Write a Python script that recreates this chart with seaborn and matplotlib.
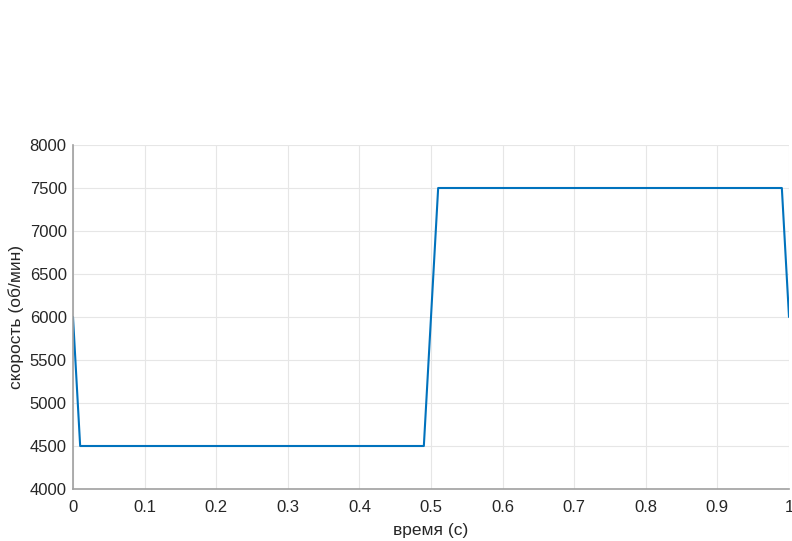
import matplotlib
matplotlib.use("Agg")
import matplotlib.pyplot as plt
import seaborn as sns
import pandas as pd

time_s = [0.0, 0.01, 0.49, 0.51, 0.99, 1.0]
speed_rpm = [6000, 4500, 4500, 7500, 7500, 6000]
x_ticks = [0, 0.1, 0.2, 0.3, 0.4, 0.5, 0.6, 0.7, 0.8, 0.9, 1.0]
x_tick_labels = ["0", "0.1", "0.2", "0.3", "0.4", "0.5", "0.6", "0.7", "0.8", "0.9", "1"]
y_ticks = [4000, 4500, 5000, 5500, 6000, 6500, 7000, 7500, 8000]

df = pd.DataFrame({"t": time_s, "v": speed_rpm})

sns.set_style("white")
plt.rcParams['font.family'] = ['Liberation Sans', 'DejaVu Sans']

fig = plt.figure(figsize=(7.92, 5.41), dpi=100)
ax = fig.add_axes([73/792, 1-489/541, (789-73)/792, (489-145)/541])

sns.lineplot(data=df, x="t", y="v", ax=ax, color="#0072BD", linewidth=1.5, sort=False)

ax.set_xlim(0, 1)
ax.set_ylim(4000, 8000)
ax.set_xticks(x_ticks)
ax.set_xticklabels(x_tick_labels)
ax.set_yticks(y_ticks)
ax.grid(True, color="#e6e6e6", linewidth=0.8)
ax.set_axisbelow(True)
for s in ["top", "right"]:
    ax.spines[s].set_visible(False)
for s in ["left", "bottom"]:
    ax.spines[s].set_color("#a0a0a0")
    ax.spines[s].set_linewidth(1.2)
ax.tick_params(axis="both", direction="in", length=4, color="#404040", labelsize=12, labelcolor="#262626")
ax.tick_params(axis="x", pad=8)
ax.tick_params(axis="y", pad=4.5)
ax.set_xlabel("время (с)", fontsize=12.5, color="#262626", labelpad=6)
ax.set_ylabel("скорость (об/мин)", fontsize=12.5, color="#262626", labelpad=4)

fig.savefig("out.png", dpi=100)
